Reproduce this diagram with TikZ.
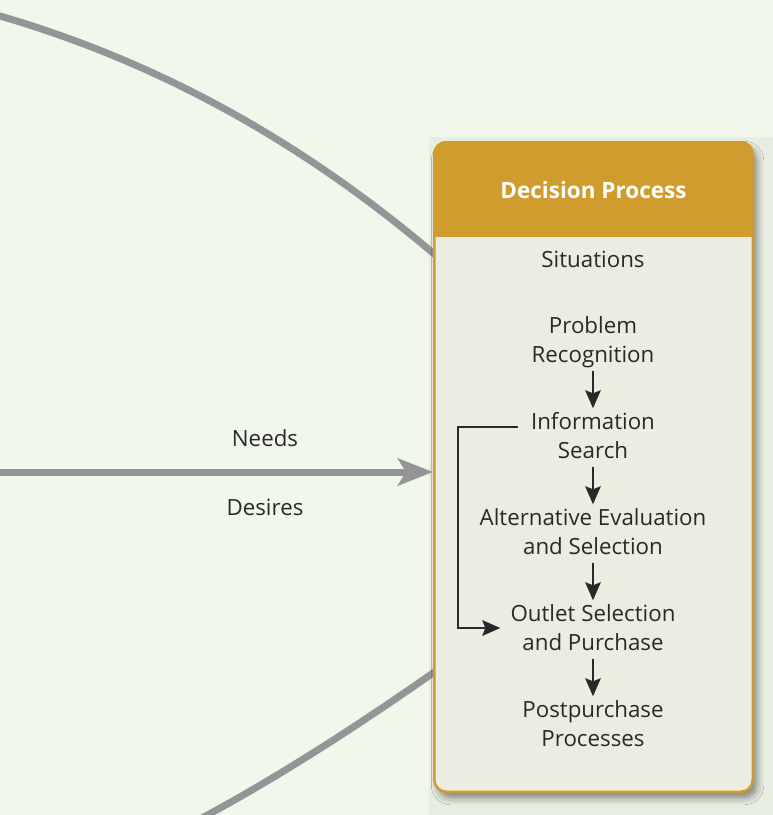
\documentclass[tikz,border=0pt]{standalone}
\usepackage{fontspec}
\setmainfont{Open Sans}
\usetikzlibrary{arrows.meta,shadows.blur}
\definecolor{bgcol}{HTML}{F1F7EA}
\definecolor{backcol}{HTML}{E8EDE1}
\definecolor{arcgray}{HTML}{939598}
\definecolor{gold}{HTML}{CF9C2D}
\definecolor{bodycol}{HTML}{ECECE1}
\definecolor{txtcol}{HTML}{2A2829}
\begin{document}
\begin{tikzpicture}[x=1pt,y=-1pt,
  txt/.style={font=\fontsize{22.3}{29}\selectfont, text=txtcol, align=center, inner sep=0pt},
  titletxt/.style={font=\fontsize{22.5}{29}\selectfont\bfseries, text=white, inner sep=0pt},
  arcline/.style={draw=arcgray, line width=7pt},
  mainarrow/.style={draw=arcgray, line width=7pt, -{Stealth[length=35pt,width=27pt,inset=8pt]}},
  flow/.style={draw=txtcol, line width=2.3pt, -{Stealth[length=18pt,width=15.5pt,inset=3pt]}},
  boxnode/.style={draw=gold, fill=bodycol, line width=2.5pt, rounded corners=12pt, inner sep=0pt,
    minimum width=318.5pt, minimum height=649.5pt,
    blur shadow={shadow xshift=4pt, shadow yshift=-6pt, shadow blur radius=7pt, shadow opacity=45}}
]
\useasboundingbox (0,0) rectangle (773,815);
\fill[bgcol] (0,0) rectangle (773,815);
\fill[backcol] (429,137) rectangle (773,815);
% outer arcs
\draw[arcline] (-10,13.1) -- (0,16) .. controls (144,58) and (289,131) .. (433,253) -- (441,259.8);
\draw[arcline] (441,667.4) -- (433,673) .. controls (360,724) and (286,772) .. (213,812) -- (185,827.4);
% decision box
\node[boxnode] (box) at (593.5,467) {};
\coordinate (hdrbot) at (765,236);
\begin{scope}
  \clip (420,120) rectangle (hdrbot);
  \fill[gold, rounded corners=13.25pt] (box.north west) rectangle (box.south east);
\end{scope}
\node[titletxt] (title) at (593.5,192.5) {\strut Decision Process};
% inputs
\coordinate (src) at (-2,472);
\draw[mainarrow] (src) -- (src -| box.west);
\node[txt] (needs) at (265,441) {\strut Needs};
\node[txt] (desires) at (265,510) {\strut Desires};
% steps
\node[txt] (sit) at (593,262) {\strut Situations};
\node[txt] (prob) at (593,342.5) {\strut Problem\\\strut Recognition};
\node[txt] (info) at (593,438.5) {\strut Information\\\strut Search};
\node[txt] (alt) at (593,534.5) {\strut Alternative Evaluation\\\strut and Selection};
\node[txt] (outlet) at (593,630.5) {\strut Outlet Selection\\\strut and Purchase};
\node[txt] (post) at (593,726.5) {\strut Postpurchase\\\strut Processes};
\draw[flow] ([yshift=1pt]prob.south) -- ([yshift=1pt]info.north);
\draw[flow] ([yshift=1pt]info.south) -- ([yshift=1pt]alt.north);
\draw[flow] ([yshift=1pt]alt.south) -- ([yshift=1pt]outlet.north);
\draw[flow] ([yshift=1pt]outlet.south) -- ([yshift=1pt]post.north);
\coordinate (fbcorner) at (458,427);
\draw[flow] ([xshift=-13pt,yshift=11.5pt]info.west) -- (fbcorner) |- ([xshift=-10pt,yshift=2.5pt]outlet.west);
\end{tikzpicture}
\end{document}
